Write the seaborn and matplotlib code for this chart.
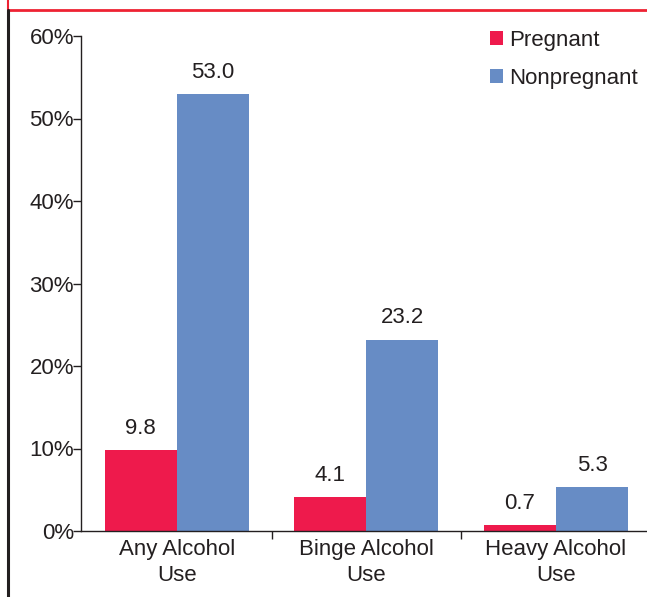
import numpy as np
import pandas as pd
import matplotlib
matplotlib.use('Agg')
import matplotlib.pyplot as plt
from matplotlib.lines import Line2D
from matplotlib.ticker import FixedLocator
import seaborn as sns

# data
categories = ['Any Alcohol\nUse', 'Binge Alcohol\nUse', 'Heavy Alcohol\nUse']
groups = ['Pregnant', 'Nonpregnant']
pregnant = [9.8, 4.1, 0.7]
nonpregnant = [53.0, 23.2, 5.3]
y_ticks = [0, 10, 20, 30, 40, 50, 60]

colors = {'Pregnant': '#EE1A4C', 'Nonpregnant': '#678CC5'}

df = pd.DataFrame({
    'category': categories * 2,
    'group': [groups[0]] * 3 + [groups[1]] * 3,
    'value': pregnant + nonpregnant,
})

sns.set_style('white')
plt.rcParams['font.family'] = ['Liberation Sans', 'DejaVu Sans']
plt.rcParams['text.color'] = '#231F20'

fs = 16

fig = plt.figure(figsize=(6.47, 5.97), dpi=100)
ax = fig.add_axes([81 / 647, 66 / 597, (647 - 81) / 647, 495 / 597])

sns.barplot(data=df, x='category', y='value', hue='group', order=categories,
            hue_order=groups, palette=colors, width=0.76, gap=0,
            saturation=1, errorbar=None, linewidth=0, ax=ax)

for cont in ax.containers:
    ax.bar_label(cont, fmt='%.1f', padding=8, fontsize=fs, color='#231F20')

ax.set_ylim(0, 60)
ax.set_xlim(-0.505, 2.48)
ax.set_yticks(y_ticks)
ax.set_yticklabels([f'{t}%' for t in y_ticks], fontsize=fs, color='#231F20')
ax.tick_params(axis='y', left=True, length=6, width=1, color='#231F20', pad=-1)
ax.tick_params(axis='x', bottom=True, length=0, labelsize=fs, labelcolor='#231F20', pad=6)
for lbl in ax.get_xticklabels():
    lbl.set_linespacing(1.3)
ax.xaxis.set_minor_locator(FixedLocator([0.5, 1.5]))
ax.tick_params(axis='x', which='minor', bottom=True, length=6, width=1, color='#231F20')
ax.set_xlabel('')
ax.set_ylabel('')

for side in ['top', 'right']:
    ax.spines[side].set_visible(False)
for side in ['left', 'bottom']:
    ax.spines[side].set_color('#231F20')
    ax.spines[side].set_linewidth(1)

leg = ax.legend(title=None, frameon=False, fontsize=fs, loc='upper left',
                bbox_to_anchor=(481 / 647, 1 - 21 / 597), bbox_transform=fig.transFigure,
                handlelength=0.6, handleheight=0.6, handletextpad=0.25,
                labelspacing=0.78, borderaxespad=0)

# frame decorations of the original page
fig.add_artist(Line2D([8 / 647, 1], [1 - 10 / 597, 1 - 10 / 597], transform=fig.transFigure,
                      color='#EE2233', linewidth=2))
fig.add_artist(Line2D([8 / 647, 8 / 647], [1 - 10 / 597, 1], transform=fig.transFigure,
                      color='#EE2233', linewidth=1.5))
fig.add_artist(Line2D([8 / 647, 8 / 647], [0, 1 - 10 / 597], transform=fig.transFigure,
                      color='#231F20', linewidth=2.2))

fig.savefig('out.png', dpi=100)
